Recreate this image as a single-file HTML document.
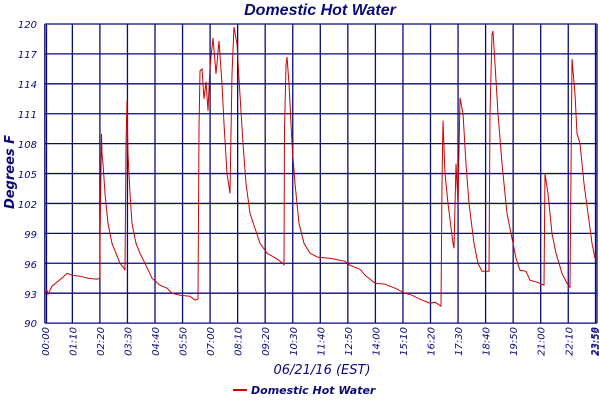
<!DOCTYPE html>
<html><head><meta charset="utf-8"><style>
html,body{margin:0;padding:0;background:#fff;}
svg{display:block;}
text{font-family:"DejaVu Sans","Liberation Sans",sans-serif;fill:#0a0a78;font-style:italic;}
</style></head><body>
<svg id="s" width="600" height="400" viewBox="0 0 600 400">
<text x="320" y="15" text-anchor="middle" font-size="16" font-weight="bold" style="font-family:'Liberation Sans',sans-serif">Domestic Hot Water</text>
<text transform="translate(14,172) rotate(-90)" text-anchor="middle" font-size="13" font-weight="bold">Degrees F</text>
<g font-size="10" text-anchor="end">
<text x="37" y="28">120</text><text x="37" y="58">117</text><text x="37" y="88">114</text><text x="37" y="118">111</text><text x="37" y="148">108</text><text x="37" y="178">105</text><text x="37" y="208">102</text><text x="37" y="238">99</text><text x="37" y="268">96</text><text x="37" y="298">93</text><text x="37" y="327">90</text>
</g>
<g id="grid" stroke="#0a0a78" stroke-width="1.3" fill="none"></g>
<g id="xl" font-size="10" text-anchor="end"></g>
<polyline id="d" fill="none" stroke="#d00000" stroke-width="1"/>
<text x="322" y="374" text-anchor="middle" font-size="13">06/21/16 (EST)</text>
<line x1="233" y1="390" x2="247" y2="390" stroke="#d00000" stroke-width="2"/>
<text x="251" y="394" font-size="11" font-weight="bold">Domestic Hot Water</text>
</svg>
<script>
var ns="http://www.w3.org/2000/svg",g=document.getElementById('grid'),xl=document.getElementById('xl');
function L(a,b,c,d){var l=document.createElementNS(ns,'line');l.setAttribute('x1',a);l.setAttribute('y1',b);l.setAttribute('x2',c);l.setAttribute('y2',d);g.appendChild(l);}
var Y=function(v){return 24+(120-v)*9.97;};
for(var i=0;i<=10;i++){var y=Y(90+i*3);L(45,y,597,y);}
var labs=["00:00","01:10","02:20","03:30","04:40","05:50","07:00","08:10","09:20","10:30","11:40","12:50","14:00","15:10","16:20","17:30","18:40","19:50","21:00","22:10"];
for(var i=0;i<20;i++){var x=44.8+i*27.55;L(x,24,x,323);var t=document.createElementNS(ns,'text');t.setAttribute('transform','translate('+(x+4)+',327) rotate(-90)');t.textContent=labs[i];xl.appendChild(t);}
L(595.5,24,595.5,323);L(597,24,597,323);L(46.5,24,46.5,323);
["23:58","23:59"].forEach(function(s,k){var t=document.createElementNS(ns,'text');t.setAttribute('transform','translate('+(598+k)+',327) rotate(-90)');t.textContent=s;xl.appendChild(t);});
var P=[45,93,47,93.3,48,92.9,52,93.7,58,94.2,63,94.6,67,95.0,72,94.8,80,94.7,88,94.5,97,94.4,100,94.5,100,98,101.5,109,102,107,103,106,105,103,108,100,112,98,116,97,120,96,124,95.5,125,95.3,126,108,127,112.3,128,107,130,103,132,100,136,98,140,97,145,96,152,94.5,160,93.8,167,93.5,172,93,180,92.8,190,92.7,195,92.3,198,92.4,199,109.5,200,115.3,202,115.5,204,112.5,206,114.2,208,111.3,210,115.7,213,118.6,216,115,219,118.3,222,114,224,110,227,105,230,103,232,115,234,119.7,237,118,239,114.5,243,108,246,104,250,101,255,99.5,260,98,267,97,276,96.5,283,96,284,95.8,284.5,109.5,286,115.8,287,116.7,289,114,292,108,295,104,299,100,304,98,310,97,318,96.6,330,96.5,345,96.2,350,95.8,360,95.4,365,94.8,375,94,385,93.9,395,93.5,405,93,412,92.8,420,92.4,430,92.0,435,92.1,441,91.7,442,104,443,110.3,445,105,448,102,453,98,454,97.5,456,106,458,102,460,112.6,463,111,466,106,469,102,474,98,478,96,482,95.2,489,95.2,490,111,492,119,493,119.3,495,116,498,111,502,106,507,101,512,98.5,516,96.5,520,95.3,526,95.2,530,94.3,537,94.1,544,93.8,545,105,548,103,552,99,556,97,562,95,567,94,570,93.6,572,116.5,575,113,577,109,580,108,584,104,588,101,592,98,595,96.5,597,96.5];
var s=[];for(var i=0;i<P.length;i+=2)s.push(P[i]+','+Y(P[i+1]).toFixed(1));
document.getElementById('d').setAttribute('points',s.join(' '));
</script>
</body></html>
